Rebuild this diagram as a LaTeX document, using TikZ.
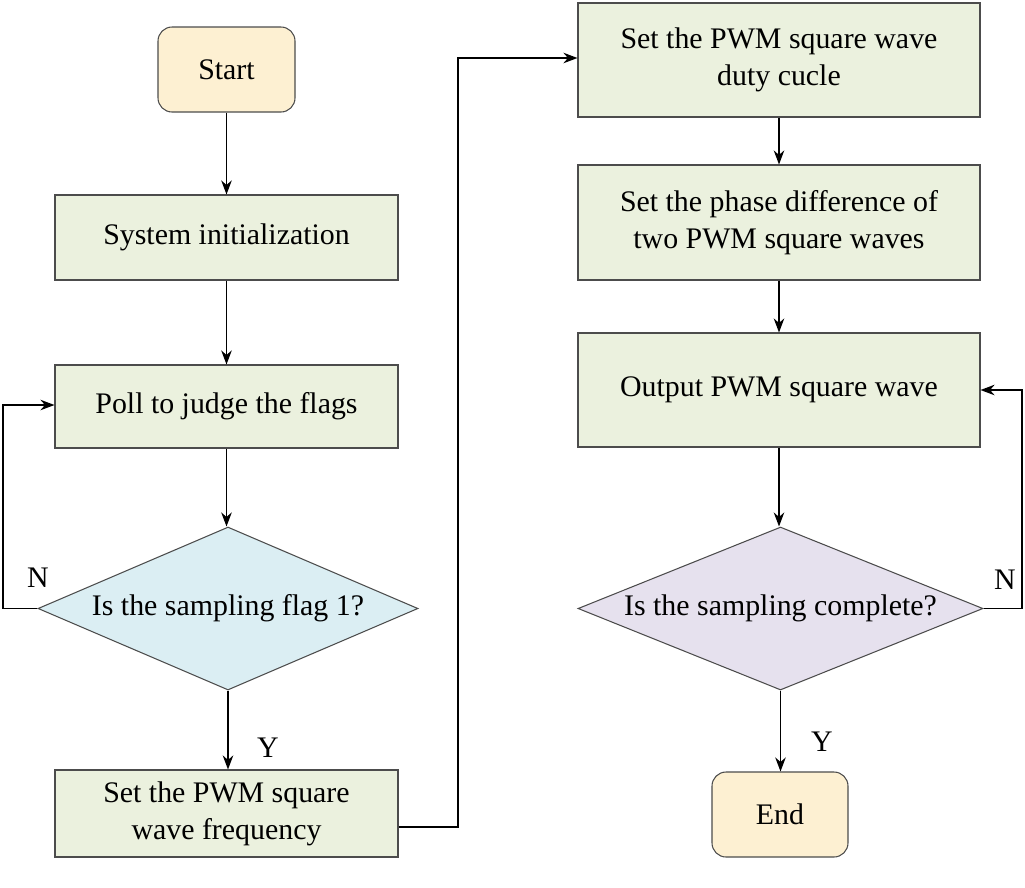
\documentclass[tikz,border=0pt]{standalone}
\usepackage{fontspec}
\setmainfont{Liberation Serif}
\usetikzlibrary{shapes.geometric,arrows.meta}
\definecolor{boxg}{HTML}{EBF1DE}
\definecolor{boxy}{HTML}{FDF0D2}
\definecolor{dblue}{HTML}{DBEEF3}
\definecolor{dlav}{HTML}{E6E1EE}
\begin{document}
\begin{tikzpicture}[x=0.02cm,y=-0.02cm,
  box/.style={draw=black!70,fill=boxg,line width=0.6pt,inner sep=0pt,align=center,font=\fontsize{17}{21}\selectfont},
  term/.style={box,fill=boxy,rounded corners=8pt},
  dia/.style={draw=black!70,line width=0.6pt,diamond,inner sep=0pt,font=\fontsize{17}{21}\selectfont},
  arr/.style={-{Stealth[length=8pt,width=6pt]},line width=0.8pt},
  lab/.style={font=\fontsize{17}{21}\selectfont}]
\useasboundingbox (0,0) rectangle (1025,887);
\node[term,minimum width=137*0.02cm,minimum height=85*0.02cm] (start) at (226.5,69.5) {Start};
\node[box,minimum width=343*0.02cm,minimum height=85*0.02cm] (sys) at (226.5,237.5) {System initialization};
\node[box,minimum width=343*0.02cm,minimum height=83*0.02cm] (poll) at (226.5,406.5) {Poll to judge the flags};
\node[dia,fill=dblue,aspect=2.33,minimum width=380*0.02cm,minimum height=163*0.02cm] (d1) at (228,608.5) {Is the sampling flag 1?};
\node[box,minimum width=343*0.02cm,minimum height=87*0.02cm] (freq) at (226.5,813.5) {Set the PWM square\\wave frequency};
\node[box,minimum width=402*0.02cm,minimum height=114*0.02cm] (duty) at (779,60) {Set the PWM square wave\\duty cucle};
\node[box,minimum width=402*0.02cm,minimum height=115*0.02cm] (phase) at (779,222.5) {Set the phase difference of\\two PWM square waves};
\node[box,minimum width=402*0.02cm,minimum height=114*0.02cm] (out) at (779,390) {Output PWM square wave};
\node[dia,fill=dlav,aspect=2.48,minimum width=405*0.02cm,minimum height=163*0.02cm] (d2) at (780.5,608.5) {Is the sampling complete?};
\node[term,minimum width=136*0.02cm,minimum height=85*0.02cm] (end) at (780,814.5) {End};
\coordinate (l1) at (3,608.5); \coordinate (l2) at (3,405);
\coordinate (m1) at (458,827); \coordinate (m2) at (458,58);
\coordinate (r1) at (1022,608.5); \coordinate (r2) at (1022,390);
\draw[arr] (start) -- (sys);
\draw[arr] (sys) -- (poll);
\draw[arr] (poll) -- (poll|-d1.north);
\draw[arr] (d1.south) -- (d1.south|-freq.north);
\node[lab] (y1) at (268,748) {Y};
\draw[arr] (d1.west) -- (l1) -- (l2) -- (poll.west|-l2);
\node[lab] (n1) at (38,578) {N};
\draw[arr] (freq.east|-m1) -- (m1) -- (m2) -- (duty.west|-m2);
\draw[arr] (duty) -- (phase);
\draw[arr] (phase) -- (out);
\draw[arr] (out) -- (out|-d2.north);
\draw[arr] (d2.south) -- (d2.south|-end.north);
\node[lab] (y2) at (822,742) {Y};
\draw[arr] (d2.east) -- (r1) -- (r2) -- (out.east|-r2);
\node[lab] (n2) at (1005,580) {N};
\end{tikzpicture}
\end{document}
